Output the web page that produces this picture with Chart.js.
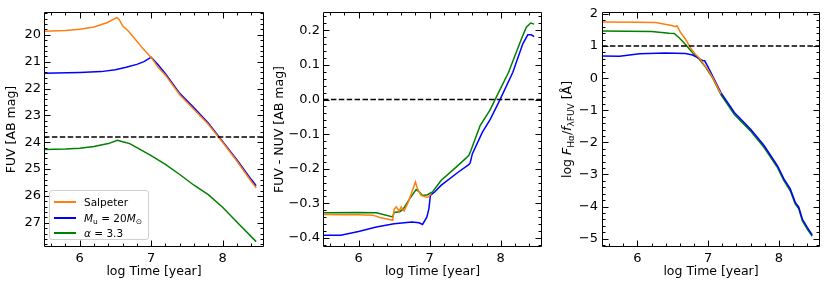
<!DOCTYPE html>
<html>
<head>
<meta charset="utf-8">
<script src="https://cdn.jsdelivr.net/npm/chart.js@4.4.1/dist/chart.umd.min.js"></script>
<style>
  body { margin: 0; background: #fff; font-family: 'DejaVu Sans', sans-serif; }
  #wrap { position: relative; width: 830px; height: 288px; overflow: hidden; }
  canvas { position: absolute; top: 0; }
  .legend { position: absolute; left: 49px; top: 190px; width: 98px; height: 48px;
            border: 1px solid #d0d0d0; border-radius: 3px; background: rgba(255,255,255,0.85);
            font-size: 10.5px; color: #000; }
  .legend .row { position: absolute; left: 0; height: 14px; line-height: 14px; white-space: nowrap; }
  .legend .swatch { position: absolute; left: 4px; top: 6px; width: 22px; height: 1.5px; }
  .legend .lab { position: absolute; left: 34px; top: 0; }
  .legend sub { font-size: 7.5px; vertical-align: -2px; line-height: 0; }
</style>
</head>
<body>
<div id="wrap">
  <canvas id="fuv" width="270" height="288" style="left:0"></canvas>
  <canvas id="color" width="280" height="288" style="left:268px"></canvas>
  <canvas id="ratio" width="271" height="288" style="left:555px"></canvas>

  <div class="legend">
    <div class="row" style="top:4px"><span class="swatch" style="background:#ff7f0e"></span><span class="lab">Salpeter</span></div>
    <div class="row" style="top:20px"><span class="swatch" style="background:#0000ff"></span><span class="lab"><i>M</i><sub>u</sub> = 20<i>M</i><sub>⊙</sub></span></div>
    <div class="row" style="top:35px"><span class="swatch" style="background:#008000"></span><span class="lab"><i>α</i> = 3.3</span></div>
  </div>
</div>

<script>
// values, x is log age [yr]

// left panel: FUV magnitude
const fuvAgeSalp = [5.5, 5.8, 6.0, 6.2, 6.38, 6.52, 6.55, 6.6, 6.68, 6.8, 6.9, 7.0, 7.1, 7.2, 7.4, 7.6, 7.8, 8.0, 8.2, 8.4, 8.47];
const fuvSalp    = [19.87, 19.84, 19.79, 19.71, 19.55, 19.36, 19.42, 19.66, 19.86, 20.24, 20.56, 20.84, 21.22, 21.5, 22.23, 22.78, 23.33, 24.0, 24.7, 25.45, 25.7];
const fuvAgeMu   = [5.5, 6.0, 6.3, 6.5, 6.65, 6.8, 6.9, 7.0, 7.1, 7.2, 7.4, 7.6, 7.8, 8.0, 8.2, 8.4, 8.47];
const fuvMu      = [21.43, 21.4, 21.37, 21.3, 21.21, 21.1, 21.0, 20.83, 21.12, 21.45, 22.18, 22.72, 23.28, 23.97, 24.65, 25.38, 25.62];
const fuvAgeAlp  = [5.5, 5.8, 6.0, 6.2, 6.4, 6.53, 6.6, 6.7, 6.8, 6.9, 7.0, 7.2, 7.4, 7.6, 7.8, 8.0, 8.2, 8.47];
const fuvAlp     = [24.27, 24.25, 24.22, 24.16, 24.05, 23.93, 23.98, 24.05, 24.2, 24.35, 24.5, 24.82, 25.2, 25.6, 25.95, 26.42, 26.97, 27.7];
const fuvRef = 23.8;
const fuvTicks = [20, 21, 22, 23, 24, 25, 26, 27];

// middle panel: FUV - NUV (Salpeter runs under the alpha = 3.3 curve after log t = 7)
const colAgeSalp = [5.5, 5.8, 6.0, 6.2, 6.3, 6.48, 6.5, 6.53, 6.57, 6.6, 6.64, 6.7, 6.75, 6.8, 6.83, 6.88, 6.97, 7.02];
const colSalp    = [-0.332, -0.333, -0.333, -0.334, -0.341, -0.349, -0.318, -0.31, -0.322, -0.31, -0.322, -0.296, -0.267, -0.238, -0.258, -0.277, -0.283, -0.273];
const colAgeMu   = [5.5, 5.75, 6.0, 6.25, 6.5, 6.75, 6.85, 6.9, 6.96, 6.99, 7.01, 7.07, 7.16, 7.4, 7.55, 7.57, 7.6, 7.74, 7.85, 7.99, 8.17, 8.31, 8.38, 8.43, 8.47];
const colMu      = [-0.392, -0.392, -0.381, -0.368, -0.359, -0.354, -0.356, -0.361, -0.34, -0.315, -0.277, -0.267, -0.248, -0.21, -0.188, -0.183, -0.157, -0.095, -0.058, 0.0, 0.079, 0.161, 0.187, 0.187, 0.182];
const colAgeAlp  = [5.5, 6.0, 6.25, 6.48, 6.5, 6.58, 6.63, 6.72, 6.81, 6.85, 6.9, 6.97, 7.04, 7.16, 7.4, 7.55, 7.58, 7.71, 7.85, 7.92, 8.11, 8.29, 8.36, 8.42, 8.47];
const colAlp     = [-0.327, -0.326, -0.327, -0.339, -0.326, -0.324, -0.316, -0.286, -0.26, -0.266, -0.277, -0.275, -0.267, -0.234, -0.19, -0.162, -0.147, -0.075, -0.03, 0.0, 0.079, 0.175, 0.209, 0.221, 0.218];
const colRef = 0;
const colTicks = [0.2, 0.1, 0.0, -0.1, -0.2, -0.3, -0.4];

// right panel: log F(Halpha)/f(FUV) (Salpeter merges with the other two near log t = 7.1)
const ratAgeSalp = [5.5, 6.0, 6.26, 6.5, 6.53, 6.56, 6.61, 6.68, 6.75, 6.82, 6.89, 6.94, 7.0, 7.06, 7.18];
const ratSalp    = [1.75, 1.74, 1.73, 1.63, 1.6, 1.63, 1.42, 1.21, 0.95, 0.74, 0.59, 0.43, 0.25, 0.03, -0.49];
const ratAgeMu   = [5.5, 5.75, 6.03, 6.4, 6.68, 6.78, 6.85, 6.92, 6.95, 6.99, 7.06, 7.18, 7.37, 7.6, 7.79, 7.98, 8.07, 8.16, 8.23, 8.28, 8.33, 8.4, 8.47];
const ratMu      = [0.69, 0.68, 0.76, 0.78, 0.77, 0.72, 0.64, 0.55, 0.54, 0.38, 0.08, -0.45, -1.07, -1.59, -2.1, -2.73, -3.14, -3.45, -3.87, -4.02, -4.39, -4.65, -4.88];
const ratAgeAlp  = [5.5, 6.2, 6.45, 6.52, 6.59, 6.68, 6.78, 6.87, 6.96, 7.06, 7.18, 7.37, 7.6, 7.79, 7.98, 8.07, 8.16, 8.23, 8.28, 8.33, 8.4, 8.47];
const ratAlp     = [1.47, 1.45, 1.4, 1.39, 1.26, 1.05, 0.79, 0.6, 0.35, 0.02, -0.51, -1.13, -1.65, -2.16, -2.79, -3.19, -3.51, -3.92, -4.07, -4.44, -4.7, -4.93];
const ratRef = 1;
const ratTicks = [2, 1, 0, -1, -2, -3, -4, -5];

const ageTicks = [6, 7, 8];
const XMIN = 5.5, XMAX = 8.58;

Chart.defaults.font.family = "'DejaVu Sans', sans-serif";
Chart.defaults.color = '#000';

function pts(xs, ys) {
  return xs.map((x, i) => ({ x: x, y: ys[i] }));
}

function minors(min, max, step, majors) {
  const out = [];
  for (let k = Math.ceil(min / step - 1e-9); k * step <= max + 1e-9; k++) {
    const v = Math.round(k * step * 1000) / 1000;
    if (!majors.some(m => Math.abs(m - v) < 1e-6)) out.push(v);
  }
  return out;
}

// matplotlib-like frame: spines on four sides, ticks pointing inward
function boxTicks(yMajor, yMinorStep) {
  return {
    id: 'boxTicks',
    afterDraw(chart) {
      const ctx = chart.ctx, a = chart.chartArea;
      const sx = chart.scales.x, sy = chart.scales.y;
      const L = Math.round(a.left) + 0.5, R = Math.round(a.right) - 0.5;
      const T = Math.round(a.top) + 0.5, B = Math.round(a.bottom) - 0.5;
      ctx.save();
      ctx.strokeStyle = '#000';
      ctx.lineWidth = 1;
      ctx.setLineDash([]);
      ctx.beginPath();
      const xmark = (vals, len) => vals.forEach(v => {
        const p = Math.round(sx.getPixelForValue(v)) + 0.5;
        if (p < L || p > R) return;
        ctx.moveTo(p, B); ctx.lineTo(p, B - len);
        ctx.moveTo(p, T); ctx.lineTo(p, T + len);
      });
      const ymark = (vals, len) => vals.forEach(v => {
        const p = Math.round(sy.getPixelForValue(v)) + 0.5;
        if (p < T || p > B) return;
        ctx.moveTo(L, p); ctx.lineTo(L + len, p);
        ctx.moveTo(R, p); ctx.lineTo(R - len, p);
      });
      xmark(ageTicks, 6);
      xmark(minors(XMIN, XMAX, 0.2, ageTicks), 3);
      ymark(yMajor, 6);
      ymark(minors(sy.min, sy.max, yMinorStep, yMajor), 3);
      ctx.rect(L, T, R - L, B - T);
      ctx.stroke();
      ctx.restore();
    }
  };
}

// y title with italics and subscripts, drawn rotated on the canvas
function richTitle(cx, parts) {
  return {
    id: 'richTitle',
    afterDraw(chart) {
      const ctx = chart.ctx, a = chart.chartArea;
      const cy = (a.top + a.bottom) / 2;
      ctx.save();
      ctx.translate(cx, cy);
      ctx.rotate(-Math.PI / 2);
      ctx.fillStyle = '#000';
      ctx.textBaseline = 'middle';
      const fontOf = p => (p.it ? 'italic ' : '') + (p.sub ? 9 : 12.5) + "px 'DejaVu Sans', sans-serif";
      let total = 0;
      parts.forEach(p => { ctx.font = fontOf(p); total += ctx.measureText(p.t).width; });
      let x = -total / 2;
      parts.forEach(p => {
        ctx.font = fontOf(p);
        ctx.fillText(p.t, x, p.sub ? 3.5 : 0);
        x += ctx.measureText(p.t).width;
      });
      ctx.restore();
    }
  };
}

function line(data, color) {
  return { data: data, borderColor: color, borderWidth: 1.5, pointRadius: 0, tension: 0, fill: false };
}

function panel(id, p) {
  const datasets = [
    { data: pts([XMIN, XMAX], [p.ref, p.ref]), borderColor: '#000', borderWidth: 1.5,
      borderDash: [5.5, 2.4], pointRadius: 0, fill: false },
    line(pts(p.salpX, p.salpY), '#ff7f0e'),
    line(pts(p.muX, p.muY), '#0000ff'),
    line(pts(p.alpX, p.alpY), '#008000')
  ];
  const plugins = [boxTicks(p.yTicks, p.yMinorStep)];
  if (p.rich) plugins.push(richTitle(p.richX, p.rich));
  new Chart(document.getElementById(id), {
    type: 'line',
    data: { datasets: datasets },
    options: {
      responsive: false,
      animation: false,
      layout: { padding: { top: 12, right: 6, left: 0, bottom: 0 } },
      plugins: { legend: { display: false }, tooltip: { enabled: false } },
      scales: {
        x: {
          type: 'linear', min: XMIN, max: XMAX,
          grid: { display: false, drawTicks: false }, border: { display: false },
          afterBuildTicks: s => { s.ticks = ageTicks.map(v => ({ value: v })); },
          afterFit: s => { s.height = 41; },
          ticks: { padding: 4, font: { size: 13 }, maxRotation: 0, autoSkip: false,
                   callback: v => String(v) },
          title: { display: true, text: 'log Time [year]', font: { size: 12.5 },
                   padding: { top: 0, bottom: 8.5 } }
        },
        y: {
          type: 'linear', min: p.ymin, max: p.ymax, reverse: !!p.reverse,
          grid: { display: false, drawTicks: false }, border: { display: false },
          afterBuildTicks: s => { s.ticks = p.yTicks.map(v => ({ value: v })); },
          afterFit: s => { s.width = p.axisW; },
          ticks: { padding: p.tickPad, font: { size: 13 }, autoSkip: false,
                   callback: p.fmt },
          title: { display: !!p.title, text: p.title || '', font: { size: 12.5 },
                   padding: { top: p.titlePad, bottom: 0 } }
        }
      }
    },
    plugins: plugins
  });
}

const minus = s => s.replace('-', '\u2212');

panel('fuv', {
  salpX: fuvAgeSalp, salpY: fuvSalp, muX: fuvAgeMu, muY: fuvMu, alpX: fuvAgeAlp, alpY: fuvAlp,
  ref: fuvRef, yTicks: fuvTicks, yMinorStep: 0.2, ymin: 19.15, ymax: 27.9, reverse: true,
  axisW: 44, tickPad: 3, titlePad: 4.5, title: 'FUV [AB mag]',
  fmt: v => String(v)
});

panel('color', {
  salpX: colAgeSalp, salpY: colSalp, muX: colAgeMu, muY: colMu, alpX: colAgeAlp, alpY: colAlp,
  ref: colRef, yTicks: colTicks, yMinorStep: 0.02, ymin: -0.426, ymax: 0.253,
  axisW: 55, tickPad: 3, titlePad: 4.5, title: 'FUV - NUV [AB mag]',
  fmt: v => minus(Number(v).toFixed(1))
});

panel('ratio', {
  salpX: ratAgeSalp, salpY: ratSalp, muX: ratAgeMu, muY: ratMu, alpX: ratAgeAlp, alpY: ratAlp,
  ref: ratRef, yTicks: ratTicks, yMinorStep: 0.2, ymin: -5.26, ymax: 2.06,
  axisW: 47, tickPad: 4, titlePad: 0, title: '',
  richX: 13,
  rich: [
    { t: 'log ' }, { t: 'F', it: true }, { t: 'H\u03b1', sub: true }, { t: '/' },
    { t: 'f', it: true }, { t: '\u03bbFUV', sub: true }, { t: ' [\u00c5]' }
  ],
  fmt: v => minus(String(v))
});
</script>
</body>
</html>
